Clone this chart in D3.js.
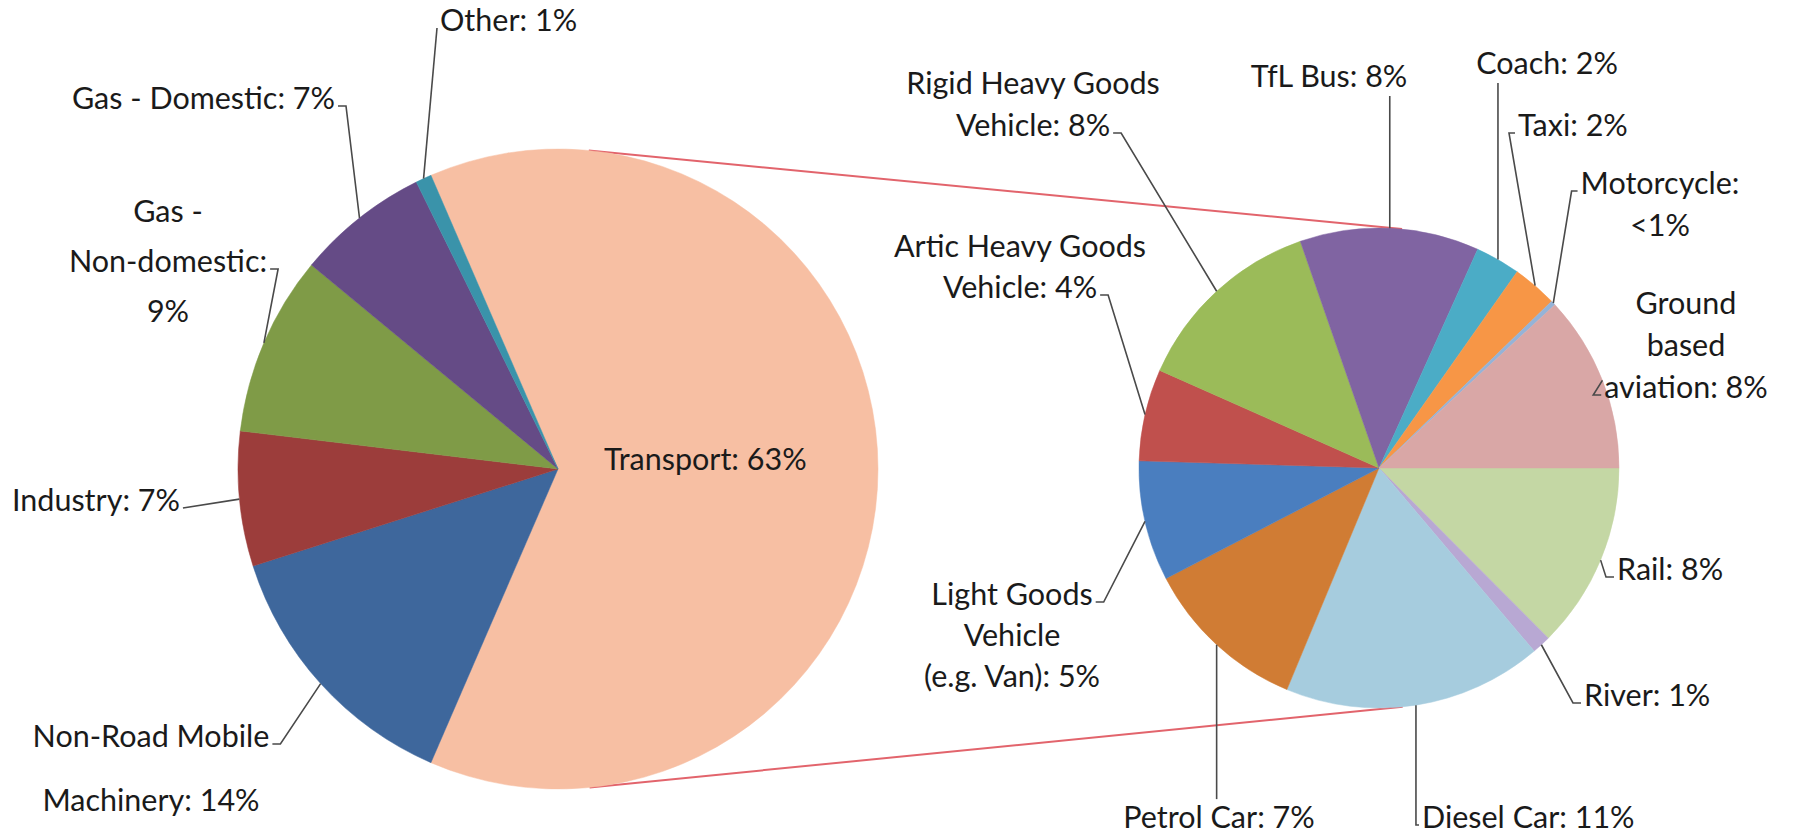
<!DOCTYPE html>
<html>
<head>
<meta charset="utf-8">
<script src="https://cdn.jsdelivr.net/npm/d3@7"></script>
<style>
  body { margin: 0; background: #fff; }
  svg text { font-family: Lato, "Open Sans", sans-serif; fill: #1a1a1a; }
</style>
</head>
<body>
<div id="chart"></div>
<script>
// emissions by source (left pie)
var mainCategories = ["Transport", "Non-Road Mobile Machinery", "Industry", "Gas - Non-domestic", "Gas - Domestic", "Other"];
var mainValues = [63.0, 13.6, 6.8, 9.1, 6.7, 0.8];
var mainLabels = [
  ["Transport: 63%"],
  ["Non-Road Mobile", "Machinery: 14%"],
  ["Industry: 7%"],
  ["Gas -", "Non-domestic:", "9%"],
  ["Gas - Domestic: 7%"],
  ["Other: 1%"]
];
var mainColors = ["#f7bfa3", "#3e679c", "#9c3d3b", "#7f9b47", "#654b86", "#3a93aa"];

// transport broken down (right pie), starting at 3 o'clock
var transportCategories = ["Rail", "River", "Diesel Car", "Petrol Car", "Light Goods Vehicle", "Artic Heavy Goods Vehicle",
  "Rigid Heavy Goods Vehicle", "TfL Bus", "Coach", "Taxi", "Motorcycle", "Ground based aviation"];
var transportValues = [7.9, 0.8, 11.0, 7.0, 5.1, 3.9, 8.2, 7.6, 1.9, 1.9, 0.2, 7.5];
var transportLabels = [
  ["Rail: 8%"],
  ["River: 1%"],
  ["Diesel Car: 11%"],
  ["Petrol Car: 7%"],
  ["Light Goods", "Vehicle", "(e.g. Van): 5%"],
  ["Artic Heavy Goods", "Vehicle: 4%"],
  ["Rigid Heavy Goods", "Vehicle: 8%"],
  ["TfL Bus: 8%"],
  ["Coach: 2%"],
  ["Taxi: 2%"],
  ["Motorcycle:", "<1%"],
  ["Ground", "based", "aviation: 8%"]
];
var transportColors = ["#c4d7a4", "#b8a8d3", "#a6ccde", "#d07c34", "#4a7ebf", "#c0504d",
  "#9bbb59", "#8064a2", "#4bacc6", "#f79646", "#95b3d7", "#d9a7a6"];

var svgWidth = 1817;
var svgHeight = 836;
var fontSize = 30.5;

var mainPie = { cx: 558, cy: 469, r: 320 };
var subPie = { cx: 1379, cy: 468, r: 240 };

// where each label sits and how its leader line attaches
var mainLayout = [
  { x: 604, y: 470, anchor: "start" },
  { x: 151, y: 747, lh: 64, anchor: "middle", side: "right", line: 0, tick: 8 },
  { x: 12, y: 511, anchor: "start", side: "right", line: 0, tick: 0 },
  { x: 168, y: 222, lh: 50, anchor: "middle", side: "right", line: 1, tick: 8 },
  { x: 335, y: 109, anchor: "end", side: "right", line: 0, tick: 8 },
  { x: 440, y: 31, anchor: "start", side: "left", line: 0, tick: 0 }
];
var subLayout = [
  { x: 1617, y: 580, anchor: "start", side: "left", line: 0, tick: 8 },
  { x: 1584, y: 706, anchor: "start", side: "left", line: 0, tick: 8 },
  { x: 1422, y: 828, anchor: "start", side: "left", line: 0, elbowAtRim: true },
  { x: 1219, y: 828, anchor: "middle", side: "above" },
  { x: 1012, y: 605, lh: 41, anchor: "middle", side: "right", line: 0, tick: 8 },
  { x: 1020, y: 257, lh: 41, anchor: "middle", side: "right", line: 1, tick: 8 },
  { x: 1033, y: 94, lh: 42, anchor: "middle", side: "right", line: 1, tick: 8 },
  { x: 1329, y: 87, anchor: "middle", side: "below" },
  { x: 1547, y: 74, anchor: "middle", side: "below" },
  { x: 1518, y: 136, anchor: "start", side: "left", line: 0, tick: 6 },
  { x: 1660, y: 194, lh: 42, anchor: "middle", side: "left", line: 0, tick: 6 },
  { x: 1686, y: 314, lh: 42, anchor: "middle", side: "left", line: 2, tick: 8 }
];

var svg = d3.select("#chart")
  .append("svg")
  .attr("width", svgWidth)
  .attr("height", svgHeight);

svg.append("rect").attr("width", svgWidth).attr("height", svgHeight).attr("fill", "#fff");

// Excel pie-of-pie: the combined slice is centred on 3 o'clock
var mainTotal = d3.sum(mainValues);
var mainStart = Math.PI / 2 - (mainValues[0] / mainTotal) * Math.PI;

var mainArcs = d3.pie().sort(null)
  .startAngle(mainStart)
  .endAngle(mainStart + 2 * Math.PI)(mainValues);

var subArcs = d3.pie().sort(null)
  .startAngle(Math.PI / 2)
  .endAngle(Math.PI / 2 + 2 * Math.PI)(transportValues);

// series lines: outer common tangents of the two circles
var dx = subPie.cx - mainPie.cx;
var dy = subPie.cy - mainPie.cy;
var dist = Math.sqrt(dx * dx + dy * dy);
var base = Math.atan2(dy, dx);
var off = Math.acos((mainPie.r - subPie.r) / dist);
[base - off, base + off].forEach(function(a) {
  svg.append("line")
    .attr("x1", mainPie.cx + mainPie.r * Math.cos(a))
    .attr("y1", mainPie.cy + mainPie.r * Math.sin(a))
    .attr("x2", subPie.cx + subPie.r * Math.cos(a))
    .attr("y2", subPie.cy + subPie.r * Math.sin(a))
    .attr("stroke", "#e2646c")
    .attr("stroke-width", 2);
});

function drawPie(arcs, pie, colors) {
  var g = svg.append("g").attr("transform", `translate(${pie.cx}, ${pie.cy})`);
  var arc = d3.arc().innerRadius(0).outerRadius(pie.r);
  g.selectAll("path")
    .data(arcs)
    .enter()
    .append("path")
    .attr("d", arc)
    .attr("fill", (d, i) => colors[i])
    .attr("stroke", (d, i) => colors[i])
    .attr("stroke-width", 0.5);
}

drawPie(mainArcs, mainPie, mainColors);
drawPie(subArcs, subPie, transportColors);

var leader = d3.line();

function drawLabels(arcs, pie, texts, layout) {
  var rimArc = d3.arc().innerRadius(pie.r).outerRadius(pie.r);
  var g = svg.append("g");
  arcs.forEach(function(d, i) {
    var L = layout[i];
    var lh = L.lh || 42;
    var t = g.append("text")
      .attr("text-anchor", L.anchor)
      .attr("font-size", fontSize);
    texts[i].forEach(function(line, k) {
      t.append("tspan").attr("x", L.x).attr("y", L.y + k * lh).text(line);
    });
    if (!L.side) return;

    var c = rimArc.centroid(d);
    var rim = [pie.cx + c[0], pie.cy + c[1]];
    var spans = t.selectAll("tspan").nodes();
    var k = L.line || 0;
    var w = spans[k].getComputedTextLength();
    var start = L.anchor === "start" ? L.x : L.anchor === "middle" ? L.x - w / 2 : L.x - w;
    var baseY = L.y + k * lh;
    var pts;
    if (L.side === "right") {
      var a = [start + w + 3, baseY - 3];
      pts = [a, [a[0] + (L.tick || 0), a[1]], rim];
    } else if (L.side === "left") {
      var b = [start - 3, baseY - 3];
      var ex = L.elbowAtRim ? rim[0] : b[0] - (L.tick || 0);
      pts = [b, [ex, b[1]], rim];
    } else if (L.side === "below") {
      pts = [[rim[0], L.y + (texts[i].length - 1) * lh + 9], rim];
    } else {
      pts = [[rim[0], L.y - fontSize * 0.75 - 6], rim];
    }
    g.append("path")
      .attr("d", leader(pts))
      .attr("fill", "none")
      .attr("stroke", "#4a4a4a")
      .attr("stroke-width", 1.6);
  });
}

drawLabels(mainArcs, mainPie, mainLabels, mainLayout);
drawLabels(subArcs, subPie, transportLabels, subLayout);
</script>
</body>
</html>
